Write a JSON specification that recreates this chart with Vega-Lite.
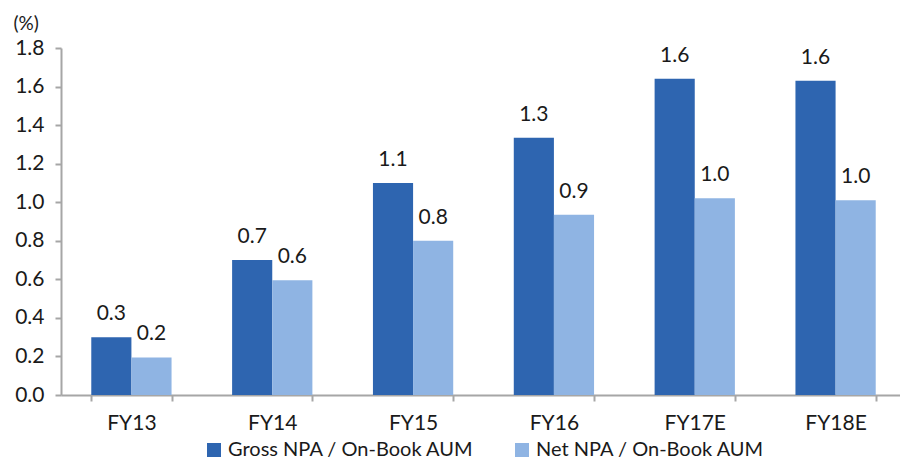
{
  "$schema": "https://vega.github.io/schema/vega-lite/v6.json",
  "autosize": "none",
  "width": 839,
  "height": 347,
  "padding": {"left": 61, "top": 48, "right": 0, "bottom": 65},
  "background": "white",
  "config": {
    "font": "Lato",
    "view": {"stroke": null},
    "axis": {
      "labelFont": "Lato",
      "labelFontSize": 21,
      "labelColor": "#1a1a1a",
      "domainColor": "#a6a6a6",
      "domainWidth": 2,
      "tickColor": "#a6a6a6",
      "tickWidth": 2,
      "tickSize": 6,
      "grid": false
    }
  },
  "data": {
    "values": [
      {"year": "FY13", "series": "Gross NPA / On-Book AUM", "value": 0.30},
      {"year": "FY13", "series": "Net NPA / On-Book AUM", "value": 0.195},
      {"year": "FY14", "series": "Gross NPA / On-Book AUM", "value": 0.70},
      {"year": "FY14", "series": "Net NPA / On-Book AUM", "value": 0.595},
      {"year": "FY15", "series": "Gross NPA / On-Book AUM", "value": 1.10},
      {"year": "FY15", "series": "Net NPA / On-Book AUM", "value": 0.80},
      {"year": "FY16", "series": "Gross NPA / On-Book AUM", "value": 1.335},
      {"year": "FY16", "series": "Net NPA / On-Book AUM", "value": 0.935},
      {"year": "FY17E", "series": "Gross NPA / On-Book AUM", "value": 1.64},
      {"year": "FY17E", "series": "Net NPA / On-Book AUM", "value": 1.02},
      {"year": "FY18E", "series": "Gross NPA / On-Book AUM", "value": 1.63},
      {"year": "FY18E", "series": "Net NPA / On-Book AUM", "value": 1.01}
    ]
  },
  "encoding": {
    "x": {
      "field": "year",
      "type": "nominal",
      "sort": null,
      "scale": {"range": [0, 845], "paddingInner": 0.43, "paddingOuter": 0.215},
      "axis": {
        "title": null,
        "labelAngle": 0,
        "labelPadding": 11,
        "tickBand": "extent"
      }
    },
    "xOffset": {
      "field": "series",
      "type": "nominal",
      "sort": ["Gross NPA / On-Book AUM", "Net NPA / On-Book AUM"],
      "scale": {"paddingInner": 0, "paddingOuter": 0}
    },
    "y": {
      "field": "value",
      "type": "quantitative",
      "scale": {"domain": [0, 1.8], "nice": false},
      "axis": {
        "values": [0, 0.2, 0.4, 0.6, 0.8, 1.0, 1.2, 1.4, 1.6, 1.8],
        "format": ".1f",
        "labelPadding": 11,
        "title": "(%)",
        "titleAngle": 0,
        "titleAlign": "left",
        "titleBaseline": "alphabetic",
        "titleX": -48,
        "titleY": -19,
        "titleFontSize": 19,
        "titleFontWeight": "normal",
        "titleFont": "Lato",
        "titleColor": "#1a1a1a"
      }
    }
  },
  "layer": [
    {
      "mark": {"type": "bar"},
      "encoding": {
        "color": {
          "field": "series",
          "type": "nominal",
          "scale": {
            "domain": ["Gross NPA / On-Book AUM", "Net NPA / On-Book AUM"],
            "range": ["#2e65b0", "#8fb4e3"]
          },
          "legend": {
            "title": null,
            "orient": "none",
            "direction": "horizontal",
            "legendX": 143,
            "legendY": 392,
            "symbolType": "square",
            "symbolSize": 196,
            "symbolStrokeWidth": 0,
            "symbolOpacity": 1,
            "labelFont": "Lato",
            "labelFontSize": 20,
            "labelColor": "#1a1a1a",
            "labelOffset": 4,
            "columnPadding": 38,
            "labelLimit": 400
          }
        }
      }
    },
    {
      "mark": {
        "type": "text",
        "baseline": "alphabetic",
        "dy": -17,
        "fontSize": 21,
        "font": "Lato",
        "color": "#1a1a1a"
      },
      "encoding": {
        "text": {"field": "value", "type": "quantitative", "format": ".1f"}
      }
    }
  ]
}
